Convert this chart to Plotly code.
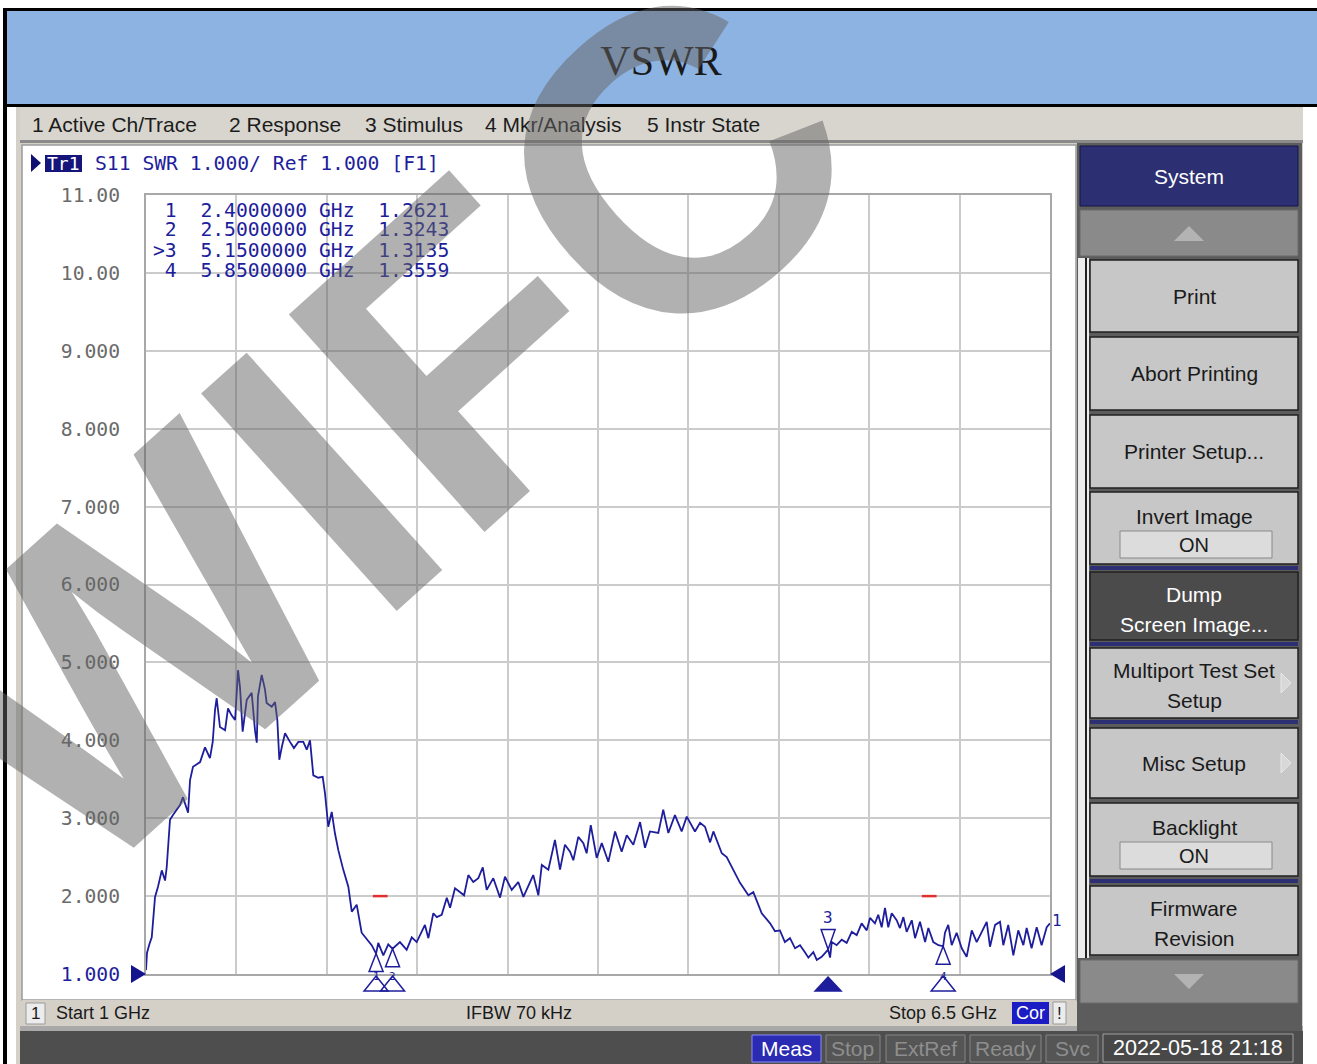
import plotly.graph_objects as go

W, H = 1317, 1064

# ---------------- data ----------------
freq_ghz = [
    1.000, 1.006, 1.020, 1.035, 1.055, 1.073, 1.096, 1.116, 1.126, 1.146, 1.164, 1.207, 1.225, 1.256,
    1.268, 1.286, 1.329, 1.359, 1.389, 1.406, 1.420, 1.430, 1.450, 1.481, 1.499, 1.521, 1.542, 1.560,
    1.572, 1.588, 1.613, 1.643, 1.663, 1.674, 1.681, 1.704, 1.724, 1.734, 1.765, 1.785, 1.799, 1.811,
    1.826, 1.846, 1.876, 1.900, 1.927, 1.957, 1.978, 1.998, 2.018, 2.048, 2.075, 2.089, 2.109, 2.130,
    2.150, 2.170, 2.200, 2.231, 2.252, 2.282, 2.312, 2.373, 2.400, 2.413, 2.444, 2.474, 2.500, 2.545,
    2.586, 2.617, 2.647, 2.697, 2.718, 2.748, 2.769, 2.799, 2.830, 2.850, 2.880, 2.910, 2.935, 2.961,
    2.991, 3.022, 3.049, 3.073, 3.113, 3.154, 3.184, 3.225, 3.265, 3.296, 3.356, 3.387, 3.408, 3.448,
    3.488, 3.519, 3.549, 3.580, 3.600, 3.630, 3.661, 3.681, 3.706, 3.742, 3.773, 3.813, 3.854, 3.894,
    3.925, 3.965, 4.006, 4.036, 4.066, 4.117, 4.147, 4.178, 4.218, 4.259, 4.290, 4.340, 4.371, 4.401,
    4.432, 4.452, 4.503, 4.533, 4.614, 4.665, 4.695, 4.746, 4.797, 4.827, 4.857, 4.887, 4.918, 4.949,
    4.979, 5.009, 5.030, 5.060, 5.081, 5.111, 5.150, 5.162, 5.172, 5.202, 5.233, 5.263, 5.294, 5.324,
    5.354, 5.385, 5.405, 5.435, 5.455, 5.476, 5.496, 5.516, 5.537, 5.567, 5.587, 5.608, 5.628, 5.659,
    5.679, 5.709, 5.740, 5.760, 5.790, 5.821, 5.850, 5.861, 5.881, 5.902, 5.932, 5.963, 5.993, 6.024,
    6.054, 6.085, 6.115, 6.135, 6.166, 6.196, 6.216, 6.246, 6.277, 6.307, 6.338, 6.358, 6.388, 6.419,
    6.449, 6.480, 6.500,
]
swr = [
    1.05, 1.27, 1.38, 1.47, 1.99, 2.12, 2.33, 2.20, 2.37, 2.98, 3.04, 3.17, 3.27, 3.07,
    3.49, 3.66, 3.72, 3.91, 3.77, 3.98, 4.39, 4.54, 4.17, 4.13, 4.41, 4.32, 4.26, 4.90,
    4.68, 4.11, 4.52, 4.61, 4.13, 3.97, 4.56, 4.84, 4.65, 4.48, 4.43, 4.49, 4.26, 3.75,
    3.91, 4.09, 3.98, 3.90, 3.98, 3.98, 3.88, 4.00, 3.55, 3.52, 3.53, 3.32, 2.89, 3.08,
    2.80, 2.59, 2.34, 2.12, 1.80, 1.89, 1.53, 1.37, 1.262, 1.40, 1.24, 1.38, 1.324, 1.41,
    1.31, 1.47, 1.41, 1.63, 1.46, 1.78, 1.73, 1.76, 1.98, 1.85, 2.10, 2.05, 2.01, 2.27,
    2.18, 2.23, 2.37, 2.08, 2.23, 1.98, 2.25, 2.08, 2.18, 1.99, 2.27, 2.01, 2.40, 2.34,
    2.72, 2.34, 2.66, 2.57, 2.46, 2.76, 2.68, 2.55, 2.91, 2.49, 2.68, 2.44, 2.83, 2.57,
    2.78, 2.66, 2.95, 2.62, 2.83, 2.81, 3.11, 2.81, 3.04, 2.83, 3.02, 2.83, 2.94, 2.89,
    2.69, 2.83, 2.55, 2.50, 2.17, 2.01, 2.05, 1.78, 1.65, 1.55, 1.56, 1.41, 1.46, 1.33,
    1.37, 1.28, 1.21, 1.28, 1.18, 1.22, 1.314, 1.21, 1.41, 1.37, 1.44, 1.40, 1.54, 1.50,
    1.65, 1.56, 1.72, 1.65, 1.76, 1.60, 1.85, 1.60, 1.78, 1.69, 1.59, 1.73, 1.54, 1.69,
    1.46, 1.67, 1.41, 1.59, 1.41, 1.37, 1.356, 1.53, 1.63, 1.37, 1.53, 1.33, 1.22, 1.56,
    1.41, 1.54, 1.67, 1.35, 1.63, 1.67, 1.37, 1.63, 1.24, 1.56, 1.37, 1.59, 1.33, 1.60,
    1.37, 1.60, 1.65,
]

marker_ids = ["1", "2", "3", "4"]
marker_freq = [2.4, 2.5, 5.15, 5.85]
marker_swr = [1.2621, 1.3243, 1.3135, 1.3559]
active_marker = "3"

y_tickvals = [1, 2, 3, 4, 5, 6, 7, 8, 9, 10, 11]
y_ticktext = ["1.000", "2.000", "3.000", "4.000", "5.000", "6.000", "7.000", "8.000", "9.000", "10.00", "11.00"]

limit_level = 2.0
limit_start = [2.38, 5.72]
limit_stop = [2.47, 5.81]

f_start, f_stop = 1.0, 6.5
x_divisions = 10

menu_items = ["1 Active Ch/Trace", "2 Response", "3 Stimulus", "4 Mkr/Analysis", "5 Instr State"]
status_items = ["Meas", "Stop", "ExtRef", "Ready", "Svc"]
timestamp = "2022-05-18 21:18"

# ---------------- styling helpers ----------------
SANS = "Liberation Sans, Arial, sans-serif"
MONO = "DejaVu Sans Mono, monospace"
SERIF = "Liberation Serif, Times New Roman, serif"
TRACE = "#1e1e9c"
NAVY = "#2c2f72"

PLOT_L, PLOT_R, PLOT_T, PLOT_B = 146, 1050, 195, 974

shapes = []
annos = []


def px(x):
    return x / W


def py(y):
    return 1 - y / H


def rect(x0, y0, x1, y1, fill, line=None, lw=0, layer="below"):
    shapes.append(dict(type="rect", xref="paper", yref="paper",
                       x0=px(x0), x1=px(x1), y0=py(y1), y1=py(y0),
                       fillcolor=fill, layer=layer,
                       line=dict(color=line if line else fill, width=lw)))


def ppath(points, fill, line=None, lw=0, layer="above"):
    d = "M" + " L".join(f"{px(a):.5f},{py(b):.5f}" for a, b in points) + " Z"
    shapes.append(dict(type="path", xref="paper", yref="paper", path=d,
                       fillcolor=fill, layer=layer,
                       line=dict(color=line if line else fill, width=lw)))


def text(x, y, s, size=20, color="#1a1a1a", family=SANS, anchor="left", **kw):
    annos.append(dict(x=px(x), y=py(y), xref="paper", yref="paper", text=s,
                      showarrow=False, xanchor=anchor, yanchor="middle",
                      font=dict(size=size, color=color, family=family), **kw))


def marker_path(xa, ya, pts, fill, line, lw=1.5, yref="y"):
    """Path anchored at data frequency xa (and value ya); pts are pixel offsets (y up)."""
    d = "M" + " L".join(f"{a},{b}" for a, b in pts) + " Z"
    shapes.append(dict(type="path", xref="x", yref=yref, xsizemode="pixel", ysizemode="pixel",
                       xanchor=xa, yanchor=ya, path=d, fillcolor=fill, layer="above",
                       line=dict(color=line, width=lw)))


# ---------------- background frame ----------------
rect(16, 107, 1303, 1064, "#d4d0c8")
rect(5, 10, 1317, 105, "#8db3e2")
rect(3, 8, 1317, 11, "#000000")
rect(3, 8, 7, 1064, "#000000")
rect(3, 104, 1317, 107, "#000000")

# menu bar
rect(20, 108, 1303, 140, "#d8d5ce")
rect(20, 140, 1303, 143, "#8a8a8a")
menu_x = [30, 227, 363, 483, 645]
for mx, item in zip(menu_x, menu_items):
    text(mx, 125, item, size=21, color="#1c1c1c")

# chart panel
rect(22, 145, 1076, 1000, "#ffffff", line="#9a9a9a", lw=1.5)
rect(22, 1000, 1076, 1026, "#d4d0c8")
rect(20, 1026, 1303, 1031, "#a9a9a9")
rect(20, 1031, 1303, 1064, "#4e4e4e")

# right softkey panel
rect(1077, 143, 1302, 1031, "#5c5c5c")
rect(1078, 258, 1089, 958, "#ececec")
rect(1085, 258, 1087, 958, "#202020")
rect(1080, 146, 1298, 206, NAVY, line="#15174a", lw=1)
text(1189, 177, "System", size=21, color="#ffffff", anchor="center")
rect(1080, 210, 1298, 256, "#8a8a8a", line="#6a6a6a", lw=1)
ppath([(1174, 241), (1204, 241), (1189, 226)], "#b3b3b3")

buttons = [
    (260, 332, ["Print"], False),
    (337, 410, ["Abort Printing"], False),
    (415, 488, ["Printer Setup..."], False),
    (492, 564, ["Invert Image"], False),
    (572, 640, ["Dump", "Screen Image..."], True),
    (648, 718, ["Multiport Test Set", "Setup"], False),
    (728, 798, ["Misc Setup"], False),
    (803, 876, ["Backlight"], False),
    (886, 955, ["Firmware", "Revision"], False),
]
for (y0, y1, lines, dark) in buttons:
    rect(1090, y0, 1298, y1, "#4b4b4b" if dark else "#c7c7c7", line="#202020", lw=1.5)
    col = "#ffffff" if dark else "#1a1a1a"
    if lines == ["Invert Image"] or lines == ["Backlight"]:
        text(1194, y0 + 24, lines[0], size=21, color=col, anchor="center")
        rect(1120, y0 + 39, 1272, y0 + 66, "#dcdcdc", line="#8a8a8a", lw=1)
        text(1194, y0 + 53, "ON", size=20, color=col, anchor="center")
    elif len(lines) == 1:
        text(1194, (y0 + y1) / 2, lines[0], size=21, color=col, anchor="center")
    else:
        text(1194, y0 + 22, lines[0], size=21, color=col, anchor="center")
        text(1194, y0 + 52, lines[1], size=21, color=col, anchor="center")
for ys in [566, 642, 720, 879]:
    rect(1090, ys, 1298, ys + 4, NAVY)
for ya in [683, 763]:
    ppath([(1281, ya - 10), (1291, ya), (1281, ya + 10)], "#d8d8d8", line="#e8e8e8", lw=1)
rect(1080, 960, 1298, 1003, "#8a8a8a", line="#6a6a6a", lw=1)
ppath([(1174, 974), (1204, 974), (1189, 989)], "#b3b3b3")

# trace header
ppath([(31, 154), (31, 172), (41, 163)], "#101070")
rect(45, 155, 82, 172, "#14147a", layer="above")
text(63, 163, "Tr1", size=18, color="#ffffff", family=MONO, anchor="center")
text(93, 163, "S11\u00a0SWR\u00a01.000/\u00a0Ref\u00a01.000\u00a0[F1]", size=19.7, color=TRACE, family=MONO)

# marker table (rows from marker arrays)
for i, (mid, mf, mv) in enumerate(zip(marker_ids, marker_freq, marker_swr)):
    lab = (">" if mid == active_marker else "\u00a0") + mid
    row = f"{lab}\u00a0\u00a0{mf:.7f}\u00a0GHz\u00a0\u00a0{mv:.4f}"
    text(151, 210 + 20 * i, row, size=19.7, color=TRACE, family=MONO)

# chart status line
rect(26, 1003, 45, 1024, "#ececec", line="#9a9a9a", lw=1)
text(35.5, 1013, "1", size=17, anchor="center")
text(54, 1013, f"Start {f_start:g} GHz", size=18)
text(519, 1013, "IFBW 70 kHz", size=18, anchor="center")
text(999, 1013, f"Stop {f_stop:g} GHz", size=18, anchor="right")
rect(1012, 1002, 1049, 1024, "#1c1cc4")
text(1030.5, 1013, "Cor", size=18, color="#ffffff", anchor="center")
rect(1053, 1002, 1066, 1024, "#ececec", line="#9a9a9a", lw=1)
text(1059.5, 1013, "!", size=17, anchor="center")

# bottom status bar
box_x = [(752, 821), (826, 880), (886, 965), (970, 1041), (1046, 1098)]
for (x0, x1), s in zip(box_x, status_items):
    if s == "Meas":
        rect(x0, 1035, x1, 1062, "#2a2ab2", line="#8a8aff", lw=1)
        text((x0 + x1) / 2, 1048, s, size=21, color="#ffffff", anchor="center")
    else:
        rect(x0, 1035, x1, 1062, "#555555", line="#858585", lw=1)
        text((x0 + x1) / 2, 1048, s, size=21, color="#8e8e8e", anchor="center")
rect(1103, 1034, 1293, 1062, "#484848", line="#a0a0a0", lw=1)
text(1198, 1048, timestamp, size=21.5, color="#ffffff", anchor="center")

# reference-level arrows at both ends of the 1.000 line
ppath([(PLOT_L, PLOT_B), (PLOT_L - 15, PLOT_B - 9), (PLOT_L - 15, PLOT_B + 9)], "#14148c")
ppath([(PLOT_R, PLOT_B), (PLOT_R + 15, PLOT_B - 9), (PLOT_R + 15, PLOT_B + 9)], "#14148c")

# ---------------- chart ----------------
fig = go.Figure()

for a, b in zip(limit_start, limit_stop):
    fig.add_trace(go.Scatter(x=[a, b], y=[limit_level, limit_level], mode="lines",
                             line=dict(color="#e03030", width=2.5), hoverinfo="skip",
                             showlegend=False))

fig.add_trace(go.Scatter(x=freq_ghz, y=swr, mode="lines",
                         line=dict(color=TRACE, width=1.8), showlegend=False,
                         cliponaxis=False))

# markers
axis_bottom = py(PLOT_B)
for mid, mf, mv in zip(marker_ids, marker_freq, marker_swr):
    if mid == active_marker:
        marker_path(mf, mv, [(0, 0), (-7, 20), (7, 20)], "rgba(0,0,0,0)", TRACE)
        marker_path(mf, axis_bottom, [(0, -3), (-13, -17), (13, -17)], TRACE, TRACE, yref="paper")
        annos.append(dict(x=mf, y=mv, xref="x", yref="y", text=mid, showarrow=False,
                          yshift=32, font=dict(size=16, color=TRACE, family=MONO)))
    else:
        marker_path(mf, mv, [(0, 0), (-7, -18), (7, -18)], "rgba(0,0,0,0)", TRACE)
        marker_path(mf, axis_bottom, [(0, -2), (-12, -17), (12, -17)], "rgba(0,0,0,0)", TRACE,
                    yref="paper")
        annos.append(dict(x=mf, y=axis_bottom, xref="x", yref="paper", text=mid, showarrow=False,
                          yshift=-11, font=dict(size=11, color=TRACE, family=MONO)))

# trace number at the right end
annos.append(dict(x=freq_ghz[-1], y=swr[-1], xref="x", yref="y", text="1", showarrow=False,
                  xshift=7, yshift=3, font=dict(size=16, color=TRACE, family=MONO)))

# watermark
annos.append(dict(x=px(382), y=py(425), xref="paper", yref="paper", text="WIFC",
                  showarrow=False, textangle=-42, xanchor="center", yanchor="middle",
                  font=dict(size=425, color="rgba(100,100,100,0.5)", family=SANS, weight="bold")))

tick_labels = [f"<span style='color:#1e1e9c'>{t}</span>" if v == 1 else t
               for v, t in zip(y_tickvals, y_ticktext)]

fig.update_layout(
    width=W, height=H,
    margin=dict(l=0, r=0, t=0, b=0, pad=0, autoexpand=False),
    paper_bgcolor="#ffffff", plot_bgcolor="#ffffff",
    title=dict(text="VSWR", x=px(661), y=py(60), xanchor="center", yanchor="middle",
               font=dict(family=SERIF, size=42, color="#1a1a1a")),
    xaxis=dict(domain=[px(PLOT_L), px(PLOT_R)], range=[f_start, f_stop], automargin=False,
               tick0=f_start, dtick=(f_stop - f_start) / x_divisions,
               showticklabels=False, ticks="", showgrid=True, gridcolor="#cbcbcb", gridwidth=2,
               zeroline=False, showline=True, linecolor="#a8a8a8", linewidth=2, mirror=True),
    yaxis=dict(domain=[py(PLOT_B), py(PLOT_T)], range=[1, 11], automargin=False,
               tickvals=y_tickvals, ticktext=tick_labels, ticks="",
               tickfont=dict(family=MONO, size=19.7, color="#6a6a6a"),
               ticklabelstandoff=20,
               showgrid=True, gridcolor="#cbcbcb", gridwidth=2,
               zeroline=False, showline=True, linecolor="#a8a8a8", linewidth=2, mirror=True),
    shapes=shapes,
    annotations=annos,
    showlegend=False,
)

fig.write_html("out.html", config={"displayModeBar": False},
               post_script="document.body.style.margin='0';document.body.style.overflow='hidden';")
